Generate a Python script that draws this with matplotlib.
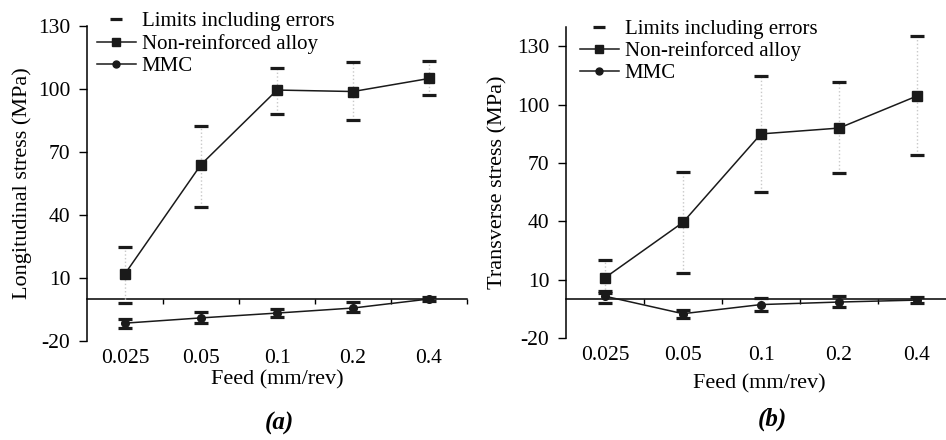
import numpy as np
import matplotlib
matplotlib.use("Agg")
from matplotlib import pyplot as plt
from matplotlib.lines import Line2D

plt.rcParams['font.family'] = ['Liberation Serif', 'DejaVu Serif']
plt.rcParams['axes.unicode_minus'] = False

feeds = ['0.025', '0.05', '0.1', '0.2', '0.4']

# (a) longitudinal stress, MPa
long_alloy = [12, 64, 99.5, 98.8, 105]
long_alloy_hi = [25, 82.5, 110, 113, 113.5]
long_alloy_lo = [-2, 44, 88, 85, 97]
long_mmc = [-11.5, -9, -6.7, -4.3, 0]
long_mmc_hi = [-9.5, -6.2, -4.8, -1.4, 1]
long_mmc_lo = [-13.8, -11.4, -8.6, -6.2, -1]

# (b) transverse stress, MPa
trans_alloy = [11, 39.5, 85, 88, 104.5]
trans_alloy_hi = [20, 65.5, 115, 111.5, 135.5]
trans_alloy_lo = [3, 13.5, 55, 65, 74]
trans_mmc = [1.5, -7.5, -2.8, -1.5, -0.5]
trans_mmc_hi = [4, -5.4, 0.5, 1.5, 1]
trans_mmc_lo = [-1.8, -9.5, -6.2, -4.2, -2]


def panel(ax, alloy, a_hi, a_lo, mmc, m_hi, m_lo, ylim, yticks, xmax):
    x = np.arange(len(feeds))
    for hi, lo in [(a_hi, a_lo), (m_hi, m_lo)]:
        ax.vlines(x, lo, hi, colors='#c8c8c8', linestyles=':', lw=1, zorder=1)
        ax.plot(x, hi, ls='none', marker='_', ms=9.5, mew=2.3, color='#1a1a1a', zorder=3)
        ax.plot(x, lo, ls='none', marker='_', ms=9.5, mew=2.3, color='#1a1a1a', zorder=3)
    ax.plot(x, alloy, '-s', color='#1a1a1a', lw=1.1, ms=6.5, zorder=4)
    ax.plot(x, mmc, '-o', color='#1a1a1a', lw=1.1, ms=5.5, zorder=4)

    ax.set_xlim(-0.5, xmax)
    ax.set_ylim(*ylim)
    ax.set_yticks(yticks)
    ax.set_xticks(x)
    ax.set_xticklabels(feeds)
    ax.tick_params(axis='x', length=0, pad=6, labelsize=15.5)
    ax.tick_params(axis='y', direction='out', length=6, width=1, pad=6, labelsize=15.5)
    for s in ['top', 'right', 'bottom']:
        ax.spines[s].set_visible(False)
    ax.spines['left'].set_linewidth(1.1)

    # zero line with ticks between categories
    zero = (0 - ylim[0]) / (ylim[1] - ylim[0])
    sec = ax.secondary_xaxis(zero)
    sec.set_xticks(np.arange(len(feeds)) + 0.5)
    sec.set_xticklabels([])
    sec.tick_params(direction='out', length=3.5, width=1)
    sec.spines['bottom'].set_linewidth(1.1)
    sec.spines['top'].set_linewidth(1.1)


fig = plt.figure(figsize=(9.46, 4.40), dpi=100)
ax1 = fig.add_axes([87 / 946, 99 / 440, 380 / 946, 315 / 440])
ax2 = fig.add_axes([566 / 946, 102 / 440, 380 / 946, 311 / 440])

panel(ax1, long_alloy, long_alloy_hi, long_alloy_lo, long_mmc, long_mmc_hi, long_mmc_lo,
      (-20, 130), [-20, 10, 40, 70, 100, 130], 4.5)
panel(ax2, trans_alloy, trans_alloy_hi, trans_alloy_lo, trans_mmc, trans_mmc_hi, trans_mmc_lo,
      (-20, 140), [-20, 10, 40, 70, 100, 130], -0.5 + 380 / 78)

ax1.set_ylabel('Longitudinal stress (MPa)', fontsize=16)
ax2.set_ylabel('Transverse stress (MPa)', fontsize=16)
ax1.yaxis.set_label_coords(-0.145, 0.5)
ax2.yaxis.set_label_coords(-0.155, 0.5)
for ax, yoff in [(ax1, -0.092), (ax2, -0.118)]:
    ax.set_xlabel('Feed (mm/rev)', fontsize=16, va='top')
    ax.xaxis.set_label_coords(0.5, yoff)
ax2.xaxis.set_label_coords(0.51, -0.118)

handles = [
    Line2D([], [], ls='none', marker='_', ms=8, mew=2.3, color='#1a1a1a'),
    Line2D([], [], ls='-', marker='s', ms=6, lw=1.1, color='#1a1a1a'),
    Line2D([], [], ls='-', marker='o', ms=5, lw=1.1, color='#1a1a1a'),
]
labels = ['Limits including errors', 'Non-reinforced alloy', 'MMC']
for ax, anchor in [(ax1, (10 / 380, 1.045)), (ax2, (14 / 380, 1.025))]:
    ax.legend(handles, labels, loc='upper left', bbox_to_anchor=anchor, frameon=False,
              fontsize=15, handlelength=1.85, handletextpad=0.3, labelspacing=0.12,
              borderpad=0, borderaxespad=0)

fig.text(279 / 946, 1 - 423 / 440, '(a)', fontsize=18, fontweight='bold', fontstyle='italic',
         ha='center', va='center')
fig.text(772 / 946, 1 - 419 / 440, '(b)', fontsize=18, fontweight='bold', fontstyle='italic',
         ha='center', va='center')

fig.savefig('out.png', dpi=100)
